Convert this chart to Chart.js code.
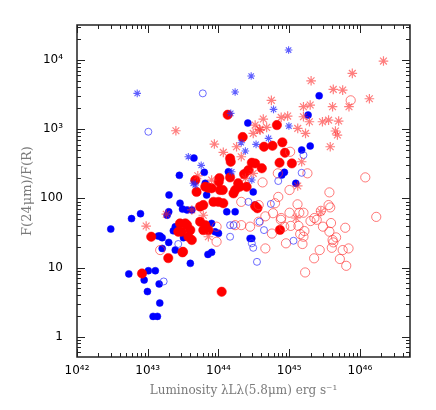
<!DOCTYPE html>
<html>
<head>
<meta charset="utf-8">
<script src="https://cdn.jsdelivr.net/npm/chart.js@4.4.0/dist/chart.umd.min.js"></script>
<style>
  html,body{margin:0;padding:0;background:#fff;}
  #wrap{width:436px;height:410px;}
</style>
</head>
<body>
<div id="wrap"><canvas id="c" width="436" height="410"></canvas></div>
<script>
// ---- Data (luminosity in erg/s, ratio F(24um)/F(R)) ----
const blueFilledX = [3.0e42,5.9e42,7.9e42,2.0e43,2.8e43,6.3e43,4.5e43,2.6e44,2.65e45,1.85e45,1.98e45,1.5e45,7.85e44,8.55e44,1.24e45,3.1e44,2.96e44,1.98e43,1.88e43,3.1e43,1.41e43,1.5e43,1.6e43,1.98e43,1.6e43,2.45e43,2.3e43,2.45e43,3.2e43,1.02e43,1.28e43,5.4e42,8.9e42,1.45e43,9.9e42,1.48e43,1.19e43,1.37e43,7.1e43,8.0e43,4.0e43,6.5e43,6.8e43,3.6e43,4.2e43,1.31e44,1.72e44,8.0e43,8.95e43,1.0e44,2.8e44,2.86e43,1.38e44,2.5e44,3.3e44];
const blueFilledY = [36,51,60,112,215,238,382,1225,3040,1600,570,500,217,238,165,124,26.4,64,57,70,28.5,28.5,27,23.1,18.9,17.9,34,38.9,27,9.0,9.0,8.1,6.6,5.8,4.5,3.07,1.97,1.97,15.5,16.6,11.5,165,112,68,68,64,64,43.5,32.9,31.2,26.4,85,242,242,80];

const redFilledX = [1.35e44,2.2e44,1.46e44,1.49e44,6.7e44,8.0e44,4.4e44,5.8e44,8.7e44,7.3e44,1.09e45,3.3e44,4.1e44,2.96e44,2.3e44,2.65e44,2.0e44,2.5e44,1.46e44,1.03e44,1.01e44,6.5e43,7.2e43,3.3e44,3.55e44,7.4e44,1.12e43,1.95e43,2.7e43,3.15e43,3.4e43,8.3e42,1.11e44,4.7e43,4.9e43,8.0e43,1.05e44,1.15e44,1.63e44,1.9e44,1.72e44,8.5e43,1.0e44,1.17e44,6.1e43,5.5e43,5.5e43,6.5e43,7.2e43,6.1e43,3.6e43,4.0e43,3.75e43,4.2e43,3.0e43,2.86e43,3.1e43];
const redFilledY = [1615,769,378,338,1146,645,557,575,456,327,320,320,272,327,224,256,147,147,201,196,174,147,142,77,72,35,27.9,13.7,32.9,16.9,43.5,8.2,4.47,183,124,140,132,132,118,165,132,89,89,85,80,76,46,41,34.8,34.8,41,34.8,27.9,25,33,43.5,16.6];

const redOpenX = [7.4e45,1.19e46,1.7e46,6.9e44,1.81e45,4.2e44,1.01e45,3.7e45,7.0e44,6.3e44,1.31e45,3.6e45,3.8e45,2.8e45,4.6e44,5.9e44,1.01e45,1.39e45,1.59e45,7.7e44,7.6e44,2.27e45,2.0e45,2.45e45,2.8e44,3.9e45,1.35e45,1.05e45,8.5e44,3.0e45,6.2e45,5.7e44,1.64e45,1.43e45,1.59e45,3.7e45,4.6e45,9.0e44,1.54e45,4.1e45,4.2e45,4.0e45,2.7e45,2.25e45,5.7e45,6.9e45,5.2e45,6.4e45,1.68e45,4.6e44,9.4e43,1.5e43,9.4e43,1.72e44,2.1e44,3.7e44,2.1e44,3.7e44,1.03e45];
const redOpenY = [2610,201,54,230,230,170,132,122,105,85,82,80,74,66,55,61,62,62,62,52,49,52,47,49,39,44,40,40,39,39,37.6,31,33.7,30.5,27.9,33,27.3,22.4,21.9,25,23.1,19.3,17.9,13.6,17.9,18.9,13.3,10.6,8.5,18.9,23.6,17.9,39,41,41,46,89,80,471];

const blueOpenX = [1.02e43,6.0e43,2.7e43,1.68e43,1.59e45,1.5e45,7.0e44,5.5e44,3.8e44,4.4e44,3.1e44,1.15e45,3.5e44,1.46e44,1.63e44,1.46e44,2.96e44,2.65e44];
const blueOpenY = [917,3290,21.9,6.3,422,234,178,83,46,34.8,19.3,24.4,12.1,41,41,27.9,22.4,89];

const redStarX = [2.5e43,8.75e43,1.17e44,1.8e44,3.3e44,3.1e44,3.8e44,2.1e44,5.1e43,9.5e42,1.83e43,2.15e46,7.8e45,2.04e45,4.2e45,5.7e45,1.36e46,5.6e44,1.59e45,1.98e45,4.1e45,7.0e45,1.59e45,1.93e45,2.95e45,3.6e45,5.0e45,4.5e45,4.8e45,1.7e45,3.8e45,1.32e45,9.5e44,7.7e44,4.3e44,3.9e44,4.8e44,1.5e45,1.32e45,1.25e45,2.8e45,8.0e43,2.4e44,3.1e44,4.2e43,6.1e43,7.2e43];
const redStarY = [948,609,462,557,1146,869,993,399,212,39.8,59,9640,6400,5000,3760,3670,2750,2610,2110,2230,2110,2110,1510,1280,1280,1350,1310,940,822,869,557,1027,1546,1480,1400,970,1060,338,151,52,64,184,195,230,68,57,27.9];

const blueStarX = [7.1e42,1.72e44,1.49e44,9.8e44,2.9e44,6.0e44,3.75e43,5.7e43,2.1e44,2.4e44,3.4e44,9.9e44,5.1e44,4.4e43,1.54e44,2.96e44,4.7e43];
const blueStarY = [3290,3440,1690,13900,5850,1930,399,300,636,483,603,1109,736,165,242,184,156];

const xTickValues = [1e42,1e43,1e44,1e45,1e46];
const xTickLabels = ['10⁴²','10⁴³','10⁴⁴','10⁴⁵','10⁴⁶'];
const yTickValues = [1,10,100,1000,10000];
const yTickLabels = ['1','10','100','10³','10⁴'];

const xTitle = 'Luminosity λLλ(5.8μm) erg s⁻¹';
const yTitle = 'F(24μm)/F(R)';

function pts(xs, ys){ return xs.map((v,i)=>({x:v, y:ys[i]})); }

const frame = {
  id:'frame',
  afterDraw(chart){
    const {ctx, chartArea:{left,right,top,bottom}, scales:{x,y}} = chart;
    ctx.save();
    ctx.strokeStyle = '#222';
    ctx.lineWidth = 1;
    ctx.beginPath();
    for (let d = 41; d <= 47; d++) {
      for (let m = 1; m <= 9; m++) {
        const v = m * Math.pow(10, d);
        if (v < x.min || v > x.max) continue;
        const px = Math.round(x.getPixelForValue(v)) + 0.5;
        const len = m === 1 ? 8 : 4;
        ctx.moveTo(px, bottom); ctx.lineTo(px, bottom - len);
        ctx.moveTo(px, top); ctx.lineTo(px, top + len);
      }
    }
    for (let d = -1; d <= 5; d++) {
      for (let m = 1; m <= 9; m++) {
        const v = m * Math.pow(10, d);
        if (v < y.min || v > y.max) continue;
        const py = Math.round(y.getPixelForValue(v)) + 0.5;
        const len = m === 1 ? 8 : 4;
        ctx.moveTo(left, py); ctx.lineTo(left + len, py);
        ctx.moveTo(right, py); ctx.lineTo(right - len, py);
      }
    }
    ctx.stroke();
    ctx.lineWidth = 1.5;
    ctx.strokeRect(left, top, right - left, bottom - top);
    ctx.restore();
  }
};

const ds = (label, xs, ys, o) => Object.assign({label, data: pts(xs, ys)}, o);

new Chart(document.getElementById('c'), {
  type: 'scatter',
  data: {
    datasets: [
      ds('Blue asterisks', blueStarX, blueStarY, {pointStyle:'star', pointRadius:3.8, borderColor:'rgba(40,40,255,0.75)', backgroundColor:'rgba(40,40,255,0.75)', borderWidth:1.1, order:1}),
      ds('Red asterisks', redStarX, redStarY, {pointStyle:'star', pointRadius:4.8, borderColor:'rgba(255,40,40,0.6)', backgroundColor:'rgba(255,40,40,0.6)', borderWidth:1.2, order:2}),
      ds('Blue open', blueOpenX, blueOpenY, {pointStyle:'circle', pointRadius:3.5, borderColor:'rgba(60,60,255,0.75)', backgroundColor:'rgba(0,0,0,0)', borderWidth:1, order:3}),
      ds('Red open', redOpenX, redOpenY, {pointStyle:'circle', pointRadius:4.6, borderColor:'rgba(255,50,50,0.65)', backgroundColor:'rgba(0,0,0,0)', borderWidth:1, order:4}),
      ds('Red filled', redFilledX, redFilledY, {pointStyle:'circle', pointRadius:4.7, borderColor:'#ff0000', backgroundColor:'#ff0000', borderWidth:0.5, order:5}),
      ds('Blue filled', blueFilledX, blueFilledY, {pointStyle:'circle', pointRadius:3.5, borderColor:'#0000ff', backgroundColor:'#0000ff', borderWidth:0.5, order:6})
    ]
  },
  options: {
    responsive: false,
    animation: false,
    layout: {padding: {left: 0, top: 25, right: 26, bottom: 0}},
    plugins: {legend: {display: false}, tooltip: {enabled: false}},
    scales: {
      x: {
        type: 'logarithmic',
        min: 1e42,
        max: 5.1e46,
        grid: {display: false, drawTicks: false},
        border: {display: false},
        afterBuildTicks: s => { s.ticks = xTickValues.map(v => ({value: v})); },
        afterFit: s => { s.height = 53; },
        ticks: {
          autoSkip: false, maxRotation: 0, padding: 7, color: '#000',
          font: {family: 'DejaVu Sans', size: 12},
          callback: v => xTickLabels[xTickValues.indexOf(v)] ?? ''
        },
        title: {display: true, text: xTitle, color: '#7a7a7a', font: {family: 'DejaVu Serif', size: 12}, padding: {top: 0, bottom: 12}}
      },
      y: {
        type: 'logarithmic',
        min: 0.51,
        max: 32000,
        grid: {display: false, drawTicks: false},
        border: {display: false},
        afterBuildTicks: s => { s.ticks = yTickValues.map(v => ({value: v})); },
        afterFit: s => { s.width = 77; },
        ticks: {
          autoSkip: false, padding: 14, color: '#000',
          font: {family: 'DejaVu Sans', size: 12},
          callback: v => yTickLabels[yTickValues.indexOf(v)] ?? ''
        },
        title: {display: true, text: yTitle, color: '#7a7a7a', font: {family: 'DejaVu Serif', size: 13}, padding: {top: 20, bottom: 0}}
      }
    }
  },
  plugins: [frame]
});
</script>
</body>
</html>
